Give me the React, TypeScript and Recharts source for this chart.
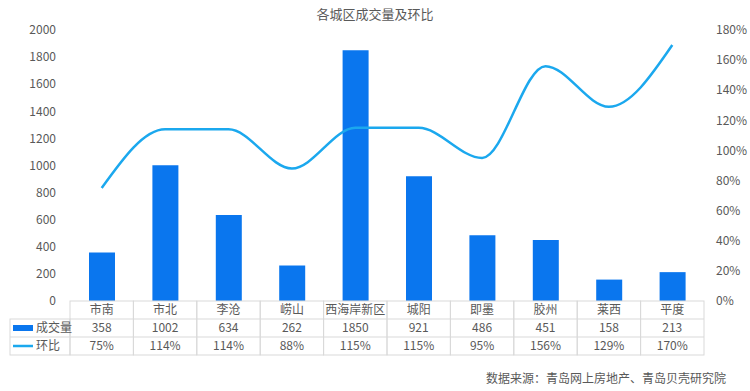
import { FC } from "react";
import {
  ComposedChart,
  Bar,
  Line,
  XAxis,
  YAxis,
  Customized,
} from "recharts";

const districts = ["市南", "市北", "李沧", "崂山", "西海岸新区", "城阳", "即墨", "胶州", "莱西", "平度"];
const volumes = [358, 1002, 634, 262, 1850, 921, 486, 451, 158, 213];
const ratios = [75, 114, 114, 88, 115, 115, 95, 156, 129, 170];
const leftTicks = [0, 200, 400, 600, 800, 1000, 1200, 1400, 1600, 1800, 2000];
const rightTicks = [0, 20, 40, 60, 80, 100, 120, 140, 160, 180];

const data = districts.map((name, i) => ({
  name,
  volume: volumes[i],
  ratio: ratios[i],
}));

const W = 750;
const H = 391;
const LEFT_W = 70;
const RIGHT_W = 46;
const BAND = (W - LEFT_W - RIGHT_W) / districts.length;
const ROW_H = 18;
const BAR_COLOR = "#0A76EE";
const LINE_COLOR = "#1BA8EE";
const TEXT = "#595959";
const BORDER = "#D9D9D9";
const FONT = "'Noto Sans CJK SC', 'Noto Sans', sans-serif";

const TableTick: FC<any> = ({ x, y, payload }) => {
  const i = payload.index;
  const x0 = x - BAND / 2;
  const top = y;
  return (
    <g fontFamily={FONT} fontSize={12} fill={TEXT}>
      <rect x={x0} y={top} width={BAND} height={ROW_H * 3} fill="none" stroke={BORDER} />
      <line x1={x0} x2={x0 + BAND} y1={top + ROW_H} y2={top + ROW_H} stroke={BORDER} />
      <line x1={x0} x2={x0 + BAND} y1={top + ROW_H * 2} y2={top + ROW_H * 2} stroke={BORDER} />
      <text x={x} y={top + 13} textAnchor="middle">{districts[i]}</text>
      <text x={x} y={top + ROW_H + 13} textAnchor="middle">{volumes[i]}</text>
      <text x={x} y={top + ROW_H * 2 + 13} textAnchor="middle">{ratios[i]}%</text>
      {i === 0 && (
        <g>
          <rect x={10} y={top + ROW_H} width={x0 - 10} height={ROW_H * 2} fill="none" stroke={BORDER} />
          <line x1={10} x2={x0} y1={top + ROW_H * 2} y2={top + ROW_H * 2} stroke={BORDER} />
          <rect x={13} y={top + ROW_H + 6} width={20} height={6} fill={BAR_COLOR} />
          <text x={36} y={top + ROW_H + 13}>成交量</text>
          <line x1={13} x2={33} y1={top + ROW_H * 2 + 9} y2={top + ROW_H * 2 + 9} stroke={LINE_COLOR} strokeWidth={2.5} />
          <text x={36} y={top + ROW_H * 2 + 13}>环比</text>
        </g>
      )}
    </g>
  );
};

const Title = () => (
  <text x={W / 2} y={19} textAnchor="middle" fontFamily={FONT} fontSize={13} fill={TEXT}>
    各城区成交量及环比
  </text>
);

const Source = () => (
  <text x={726} y={383} textAnchor="end" fontFamily={FONT} fontSize={12} fill={TEXT}>
    数据来源：青岛网上房地产、青岛贝壳研究院
  </text>
);

const App: FC = () => {
  return (
    <div style={{ position: "absolute", left: 0, top: 0, width: W, height: H, background: "#fff" }}>
      <ComposedChart
        width={W}
        height={H}
        data={data}
        margin={{ top: 30, right: 0, left: 0, bottom: 36 }}
      >
        <XAxis
          dataKey="name"
          axisLine={false}
          tickLine={false}
          tickSize={0}
          tickMargin={0}
          height={54}
          interval={0}
          tick={<TableTick />}
        />
        <YAxis
          yAxisId="left"
          domain={[0, 2000]}
          ticks={leftTicks}
          width={LEFT_W}
          axisLine={false}
          tickLine={false}
          tickMargin={8}
          tick={{ fill: TEXT, fontSize: 12, fontFamily: FONT }}
        />
        <YAxis
          yAxisId="right"
          orientation="right"
          domain={[0, 180]}
          ticks={rightTicks}
          width={RIGHT_W}
          axisLine={false}
          tickLine={false}
          tickMargin={6}
          tickFormatter={(v) => `${v}%`}
          tick={{ fill: TEXT, fontSize: 12, fontFamily: FONT }}
        />
        <Bar yAxisId="left" dataKey="volume" fill={BAR_COLOR} barSize={26} isAnimationActive={false} />
        <Line
          yAxisId="right"
          type="monotone"
          dataKey="ratio"
          stroke={LINE_COLOR}
          strokeWidth={2.5}
          dot={false}
          isAnimationActive={false}
        />
        <Customized component={Title} />
        <Customized component={Source} />
      </ComposedChart>
    </div>
  );
};

export default App;
